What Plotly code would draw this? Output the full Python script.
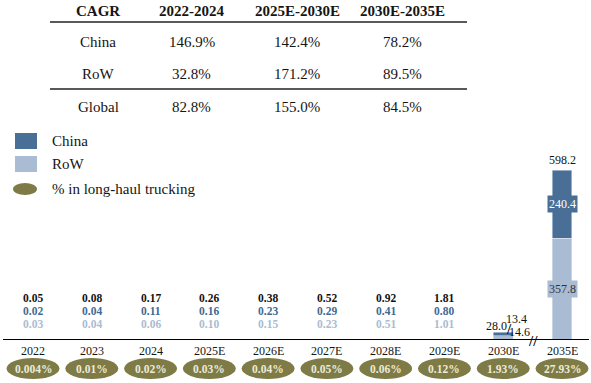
import plotly.graph_objects as go

# ---------------- data ----------------
years = ["2022", "2023", "2024", "2025E", "2026E", "2027E", "2028E", "2029E", "2030E", "2035E"]
china = [0.02, 0.04, 0.11, 0.16, 0.23, 0.29, 0.41, 0.80, 13.4, 240.4]
row = [0.03, 0.04, 0.06, 0.10, 0.15, 0.23, 0.51, 1.01, 14.6, 357.8]
total = [0.05, 0.08, 0.17, 0.26, 0.38, 0.52, 0.92, 1.81, 28.0, 598.2]
share_longhaul = ["0.004%", "0.01%", "0.02%", "0.03%", "0.04%", "0.05%", "0.06%", "0.12%", "1.93%", "27.93%"]

cagr_periods = ["2022-2024", "2025E-2030E", "2030E-2035E"]
cagr_rows = ["China", "RoW", "Global"]
cagr_china = ["146.9%", "142.4%", "78.2%"]
cagr_row = ["32.8%", "171.2%", "89.5%"]
cagr_global = ["82.8%", "155.0%", "84.5%"]

# ---------------- styles ----------------
FONT = "Liberation Serif"
C_CHINA = "#4a6f96"
C_ROW = "#a9bcd3"
C_OLIVE = "#7e7b47"
C_OLIVE_TXT = "#ecebd6"
TXT = "#151515"
W, H = 591, 383

def py(px):  # pixel y -> paper fraction
    return 1 - px / H

def pxx(px):
    return px / W

fig = go.Figure()
n = len(years)
xs = list(range(n))
fig.add_trace(go.Bar(x=xs, y=row, name="RoW", marker_color=C_ROW, width=0.34, showlegend=False,
                     hoverinfo="skip"))
fig.add_trace(go.Bar(x=xs, y=china, name="China", marker_color=C_CHINA, width=0.34, showlegend=False,
                     hoverinfo="skip"))

ann = []
shapes = []

# ---------------- CAGR table ----------------
col_x = [98, 192, 297, 402]
ann.append(dict(text="<b>CAGR</b>", x=pxx(col_x[0]), y=py(11), font=dict(size=15)))
for i, p in enumerate(cagr_periods):
    ann.append(dict(text=f"<b>{p}</b>", x=pxx(col_x[i + 1]), y=py(11), font=dict(size=15)))
row_y = [42, 74, 107]
for r, vals, yy in zip(cagr_rows, [cagr_china, cagr_row, cagr_global], row_y):
    ann.append(dict(text=r, x=pxx(col_x[0]), y=py(yy), font=dict(size=15)))
    for i, v in enumerate(vals):
        ann.append(dict(text=v, x=pxx(col_x[i + 1]), y=py(yy), font=dict(size=15)))
for ly in [22, 89]:
    shapes.append(dict(type="line", xref="paper", yref="paper", x0=pxx(50), x1=pxx(467),
                       y0=py(ly), y1=py(ly), line=dict(color="#222", width=1.5)))

# ---------------- legend ----------------
shapes.append(dict(type="rect", xref="paper", yref="paper", x0=pxx(15), x1=pxx(37), y0=py(149), y1=py(133),
                   fillcolor=C_CHINA, line=dict(width=0)))
shapes.append(dict(type="rect", xref="paper", yref="paper", x0=pxx(15), x1=pxx(37), y0=py(172), y1=py(156),
                   fillcolor=C_ROW, line=dict(width=0)))
shapes.append(dict(type="circle", xref="paper", yref="paper", x0=pxx(13), x1=pxx(37), y0=py(195), y1=py(183),
                   fillcolor=C_OLIVE, line=dict(width=0)))
for t, yy in zip(["China", "RoW", "% in long-haul trucking"], [141, 164, 189]):
    ann.append(dict(text=t, x=pxx(50), y=py(yy), xanchor="left", font=dict(size=15)))

# ---------------- axis line & ellipses ----------------
shapes.append(dict(type="line", xref="paper", yref="y", x0=pxx(3), x1=pxx(589), y0=0, y1=0,
                   line=dict(color="#000", width=2.2)))
for i, (yr, s) in enumerate(zip(years, share_longhaul)):
    ann.append(dict(text=yr, x=i, xref="x", y=py(351), font=dict(size=12)))
    shapes.append(dict(type="circle", xref="x", yref="paper", x0=i - 0.45, x1=i + 0.45,
                       y0=py(379), y1=py(358), fillcolor=C_OLIVE, line=dict(width=0)))
    ann.append(dict(text=f"<b>{s}</b>", x=i, xref="x", y=py(369), font=dict(size=11.5, color=C_OLIVE_TXT)))

# ---------------- small-year labels ----------------
for i in range(8):
    ann.append(dict(text=f"<b>{total[i]:.2f}</b>", x=i, xref="x", y=py(298), font=dict(size=11.5, color="#111")))
    ann.append(dict(text=f"<b>{china[i]:.2f}</b>", x=i, xref="x", y=py(311), font=dict(size=11.5, color="#3f6a94")))
    ann.append(dict(text=f"<b>{row[i]:.2f}</b>", x=i, xref="x", y=py(324), font=dict(size=11.5, color=C_ROW)))

# 2030E labels
ann.append(dict(text=f"{total[8]:.1f}", x=8, xref="x", xshift=-7, y=py(326), font=dict(size=12, color="#111")))
ann.append(dict(text=f"{china[8]:.1f}", x=8, xref="x", xshift=13, y=py(319), font=dict(size=12, color="#111")))
ann.append(dict(text=f"{row[8]:.1f}", x=8, xref="x", xshift=16, y=py(332), font=dict(size=12, color="#111")))
ann.append(dict(text="<b>/</b>", x=8, xref="x", xshift=6, y=py(329), font=dict(size=15, color="#111")))
ann.append(dict(text="<b>//</b>", x=8.5, xref="x", y=py(341), font=dict(size=15, color="#111")))

# 2035E labels
ann.append(dict(text=f"{total[9]:.1f}", x=9, xref="x", y=total[9], yref="y", yanchor="bottom", yshift=1,
                font=dict(size=12, color="#111")))
ann.append(dict(text=f"{china[9]:.1f}", x=9, xref="x", y=row[9] + china[9] / 2, yref="y",
                font=dict(size=12, color="#fff"), bgcolor=C_CHINA, borderpad=1))
ann.append(dict(text=f"{row[9]:.1f}", x=9, xref="x", y=row[9] / 2, yref="y",
                font=dict(size=12, color="#333"), bgcolor=C_ROW, borderpad=1))

for a in ann:
    a.setdefault("xref", "paper")
    a.setdefault("yref", "paper")
    a.setdefault("showarrow", False)
    a.setdefault("xanchor", "center")
    a.setdefault("yanchor", "middle")
    f = a.setdefault("font", {})
    f.setdefault("color", TXT)
    f.setdefault("family", FONT)

spacing = (562 - 33) / 9
fig.update_layout(
    width=W, height=H,
    margin=dict(l=0, r=0, t=0, b=0),
    paper_bgcolor="white", plot_bgcolor="white",
    barmode="stack",
    font=dict(family=FONT),
    xaxis=dict(range=[-33 / spacing, 9 + (W - 562) / spacing], showgrid=False, zeroline=False,
               showticklabels=False, showline=False, ticks=""),
    yaxis=dict(range=[0, 598.2 * 190 / 170], domain=[py(340), py(150)], showgrid=False, zeroline=False,
               showticklabels=False, showline=False, ticks=""),
    annotations=ann,
    shapes=shapes,
)

fig.write_html("out.html", config={"displayModeBar": False},
               post_script="document.body.style.margin='0';document.body.style.overflow='hidden';")
